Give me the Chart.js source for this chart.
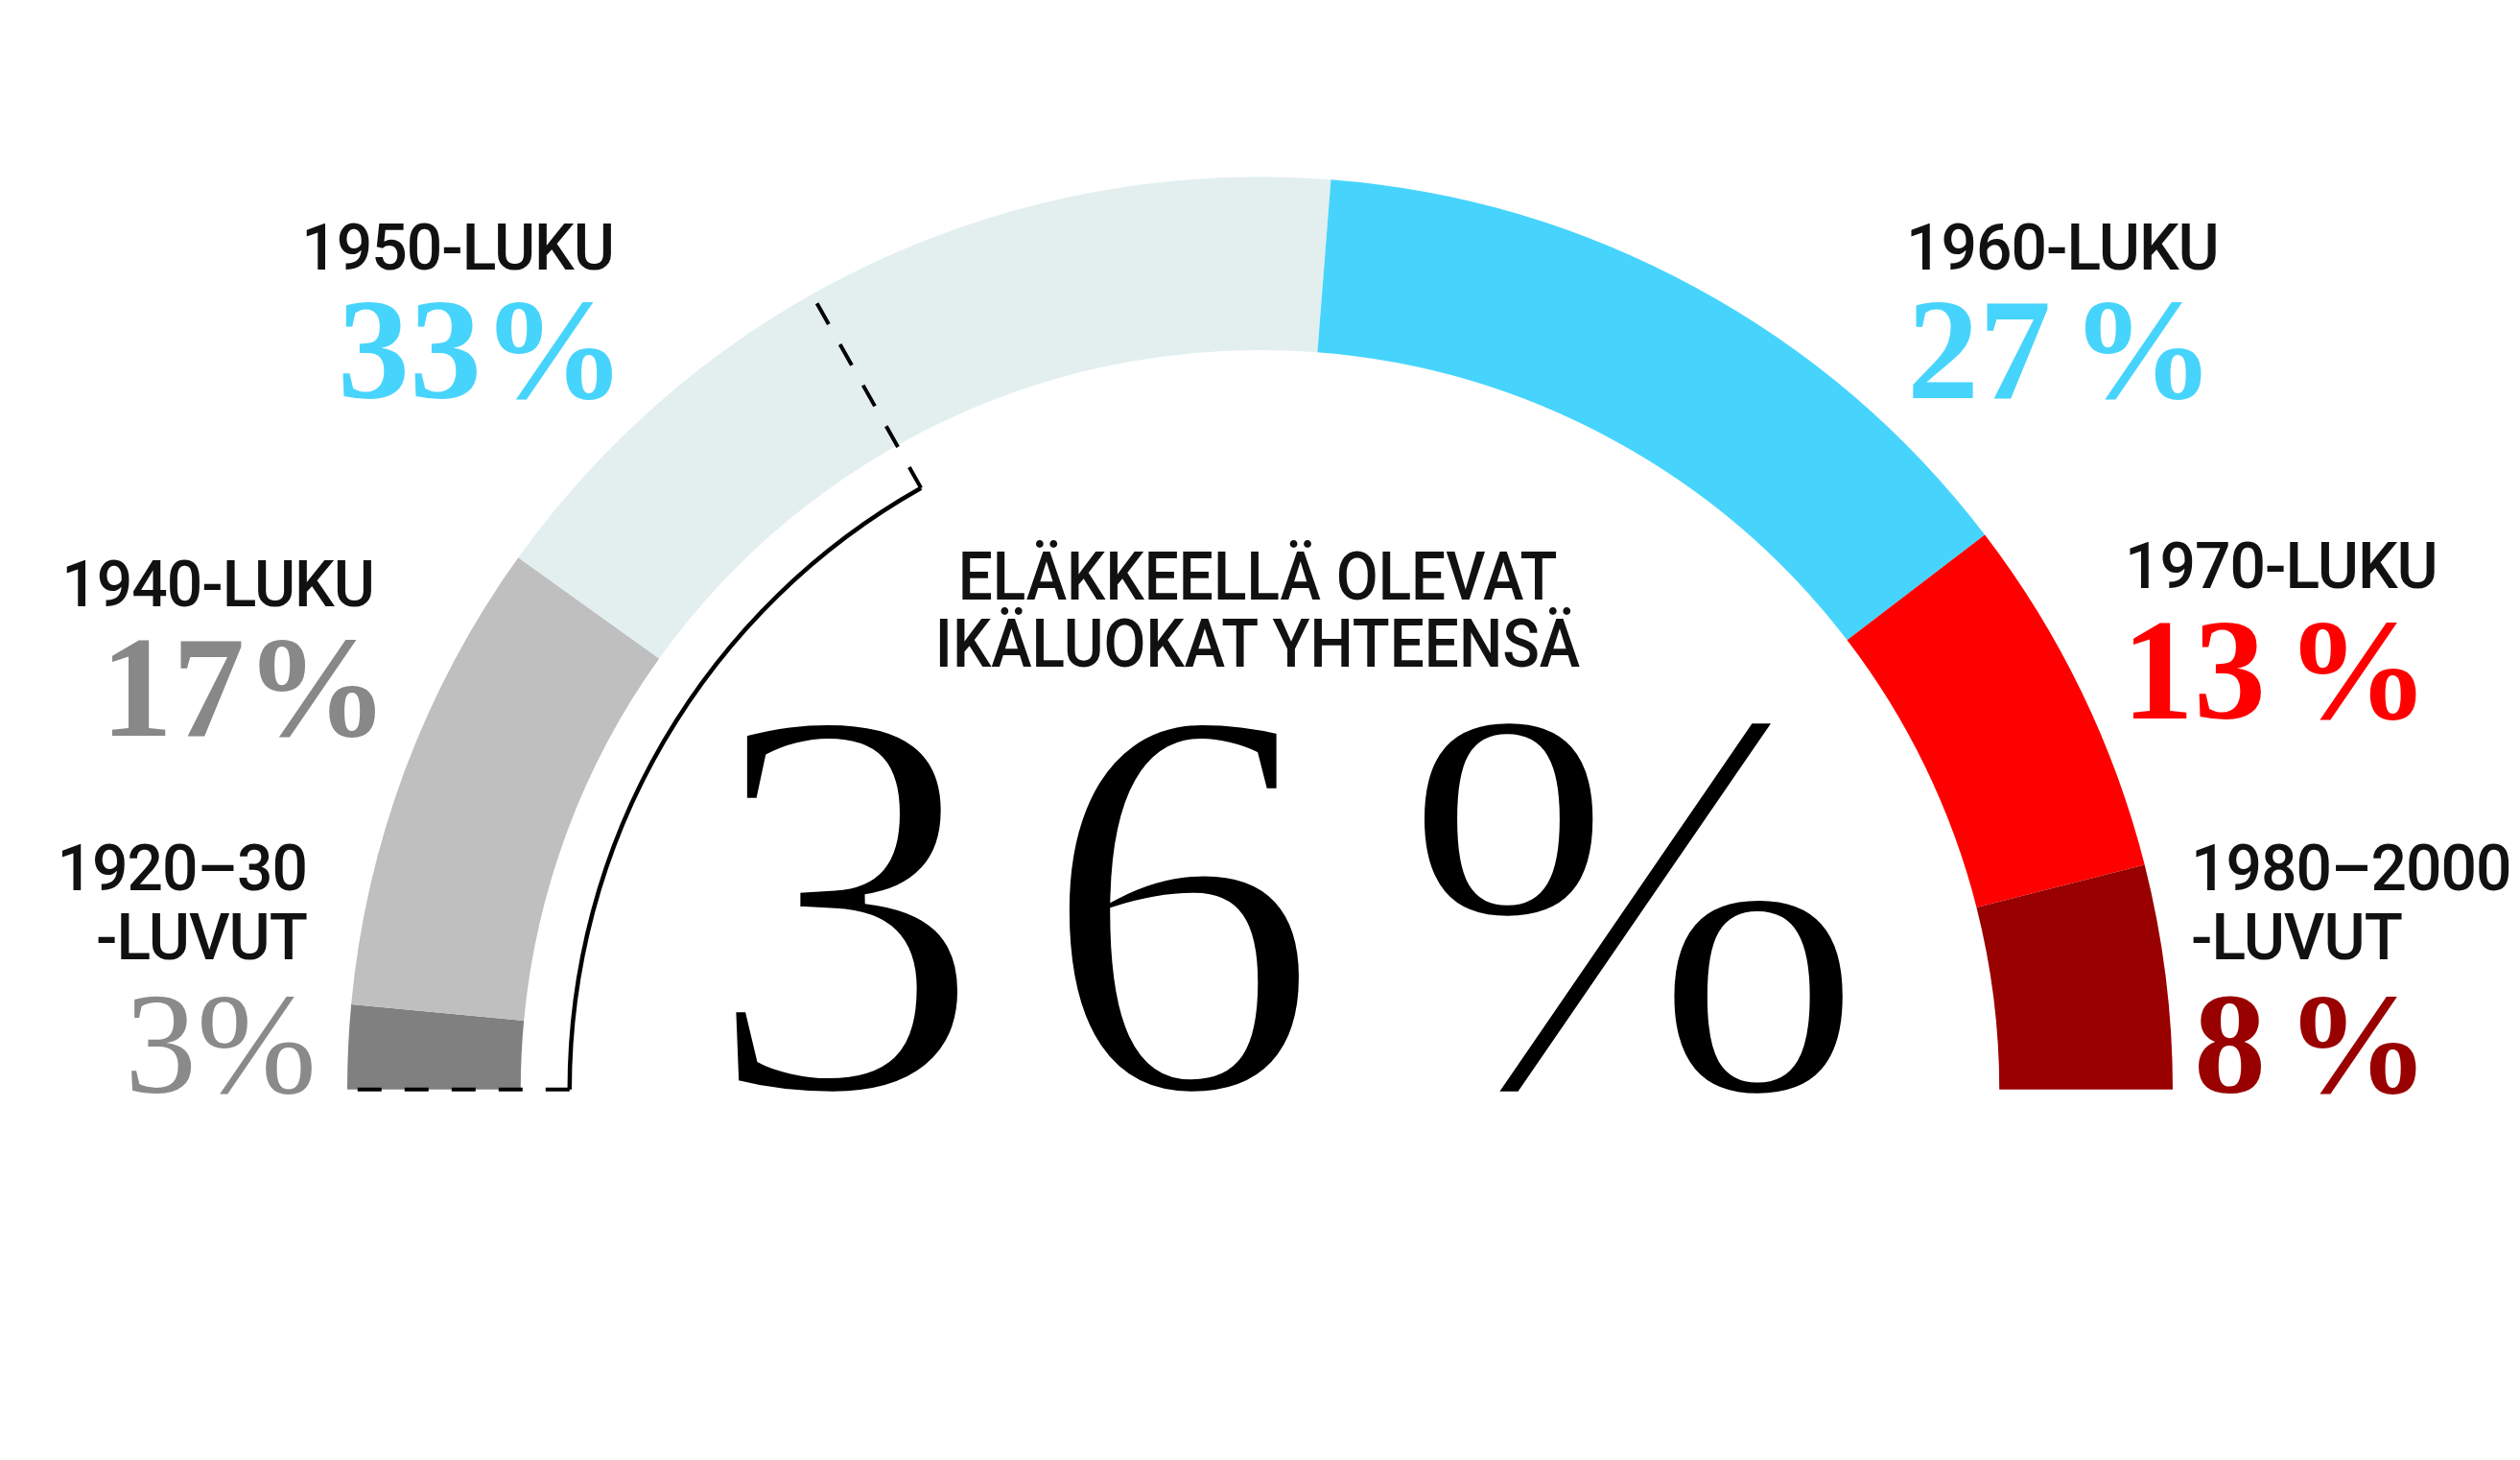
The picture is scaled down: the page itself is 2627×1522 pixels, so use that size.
<!DOCTYPE html>
<html lang="fi">
<head>
<meta charset="utf-8">
<title>Eläkkeellä olevat ikäluokat yhteensä</title>
<script src="https://cdn.jsdelivr.net/npm/chart.js@4.4.1/dist/chart.umd.min.js"></script>
<style>
    html, body { margin: 0; padding: 0; background: #ffffff; }
    #wrap { position: relative; width: 2627px; height: 1522px; overflow: hidden; }
    #graphIkaluokat { position: absolute; left: 0; top: 0; }
    .lbl { position: absolute; line-height: 1; white-space: nowrap; }
    .name { font-family: Roboto, 'Noto Sans', sans-serif; font-weight: 500; color: #111111; letter-spacing: -1px; }
    .val { font-family: 'Liberation Serif', 'DejaVu Serif', serif; }
</style>
</head>
<body>
<div id="wrap">
    <canvas id="graphIkaluokat" width="2627" height="1522"></canvas>
</div>
<script>
//Données
var ikaluokat = ['1920–30\n-LUVUT', '1940-LUKU', '1950-LUKU', '1960-LUKU', '1970-LUKU', '1980–2000\n-LUVUT'];
var osuudet = [3, 17, 33, 27, 13, 8];
var yhteensa = [36];
var otsikko = ['ELÄKKEELLÄ OLEVAT', 'IKÄLUOKAT YHTEENSÄ'];
// fin du crochet noir sur l'arc (même unité que osuudet)
var crochetFin = [34];

var couleurs = ['#808080', '#bfbfbf', '#e3efef', '#47d4fc', '#ff0000', '#990000'];
var couleursTexte = ['#8a8a8a', '#888888', '#47d4fc', '#47d4fc', '#ff0000', '#990000'];

//Positions des libellés (pixels)
var W = 2627;
var positions = [
    { x: 320, align: 'right', nameY: 928, valX: 330, valY: 1139, sep: '', weight: 400 },
    { x: 390, align: 'right', nameY: 632, valX: 405, valY: 767, sep: '', weight: 700 },
    { x: 640, align: 'right', nameY: 281, valX: 652, valY: 415, sep: '', weight: 700 },
    { x: 1987, align: 'left', nameY: 281, valX: 1988, valY: 415, sep: ' ', weight: 700 },
    { x: 2215, align: 'left', nameY: 613, valX: 2212, valY: 749, sep: ' ', weight: 700 },
    { x: 2284, align: 'left', nameY: 928, valX: 2287, valY: 1139, sep: ' ', weight: 700 }
];

function PlaceText(text, cls, x, baseline, align, size) {
    var el = document.createElement('div');
    el.className = 'lbl ' + cls;
    el.textContent = text;
    el.style.fontSize = size + 'px';
    el.style.top = (baseline - 0.84 * size) + 'px';
    if (align === 'right') {
        el.style.right = (W - x) + 'px';
    }
    else if (align === 'center') {
        el.style.left = x + 'px';
        el.style.transform = 'translateX(-50%)';
    }
    else {
        el.style.left = x + 'px';
    }
    document.getElementById('wrap').appendChild(el);
    return el;
}

//Crochet noir + pointillés
var crochetPlugin = {
    id: 'crochet',
    afterDatasetsDraw: function (chart) {
        var arc = chart.getDatasetMeta(0).data[0];
        var cx = arc.x, cy = arc.y;
        var rOut = arc.outerRadius, rIn = arc.innerRadius;
        var total = osuudet.reduce(function (a, b) { return a + b; }, 0);
        var a0 = Math.PI;
        var a1 = Math.PI + crochetFin[0] / total * Math.PI;
        var rb = rIn - 51;
        var ctx = chart.ctx;
        ctx.save();
        ctx.strokeStyle = '#000000';
        ctx.lineWidth = 4.5;
        ctx.beginPath();
        ctx.arc(cx, cy, rb, a0, a1, false);
        ctx.stroke();
        ctx.lineWidth = 4;
        ctx.setLineDash([25, 24]);
        [a0, a1].forEach(function (a) {
            ctx.beginPath();
            ctx.moveTo(cx + rb * Math.cos(a), cy + rb * Math.sin(a));
            ctx.lineTo(cx + (rOut - 10) * Math.cos(a), cy + (rOut - 10) * Math.sin(a));
            ctx.stroke();
        });
        ctx.restore();
    }
};

//Demi-anneau
function DisplayGraphIkaluokat(graphId) {
    var ctx = document.getElementById(graphId).getContext('2d');
    var chart = new Chart(ctx, {
        type: 'doughnut',
        data: {
            labels: ikaluokat,
            datasets: [{
                data: osuudet,
                backgroundColor: couleurs,
                borderWidth: 0
            }]
        },
        options: {
            responsive: false,
            animation: false,
            rotation: -90,
            circumference: 180,
            cutout: '81%',
            layout: {
                padding: { left: 362, right: 362, top: 184, bottom: 386 }
            },
            plugins: {
                legend: { display: false },
                tooltip: { enabled: false }
            }
        },
        plugins: [crochetPlugin]
    });
    return chart;
}

DisplayGraphIkaluokat('graphIkaluokat');

//Libellés
ikaluokat.forEach(function (nom, i) {
    var p = positions[i];
    nom.split('\n').forEach(function (ligne, j) {
        PlaceText(ligne, 'name', p.x, p.nameY + j * 72, p.align, 66);
    });
    var v = PlaceText(osuudet[i] + p.sep + '%', 'val', p.valX, p.valY, p.align, 150);
    v.style.color = couleursTexte[i];
    v.style.fontWeight = p.weight;
    v.style.wordSpacing = '-17px';
});

//Titre central
otsikko.forEach(function (ligne, j) {
    var t = PlaceText(ligne, 'name', 1311, 625 + j * 70, 'center', 70);
    t.style.letterSpacing = '0px';
    t.style.transform = 'translateX(-50%) scaleX(0.912)';
});

//Grand chiffre
var big = PlaceText('', 'val', 1340, 1139, 'center', 583);
var chiffres = String(yhteensa[0]);
var s1 = document.createElement('span');
s1.textContent = chiffres.charAt(0);
s1.style.letterSpacing = '59px';
big.appendChild(s1);
big.appendChild(document.createTextNode(chiffres.slice(1) + ' %'));
big.style.wordSpacing = '-62px';
big.style.color = '#000000';
big.style.fontWeight = 400;
big.style.webkitTextStroke = '10px #ffffff';
</script>
</body>
</html>
